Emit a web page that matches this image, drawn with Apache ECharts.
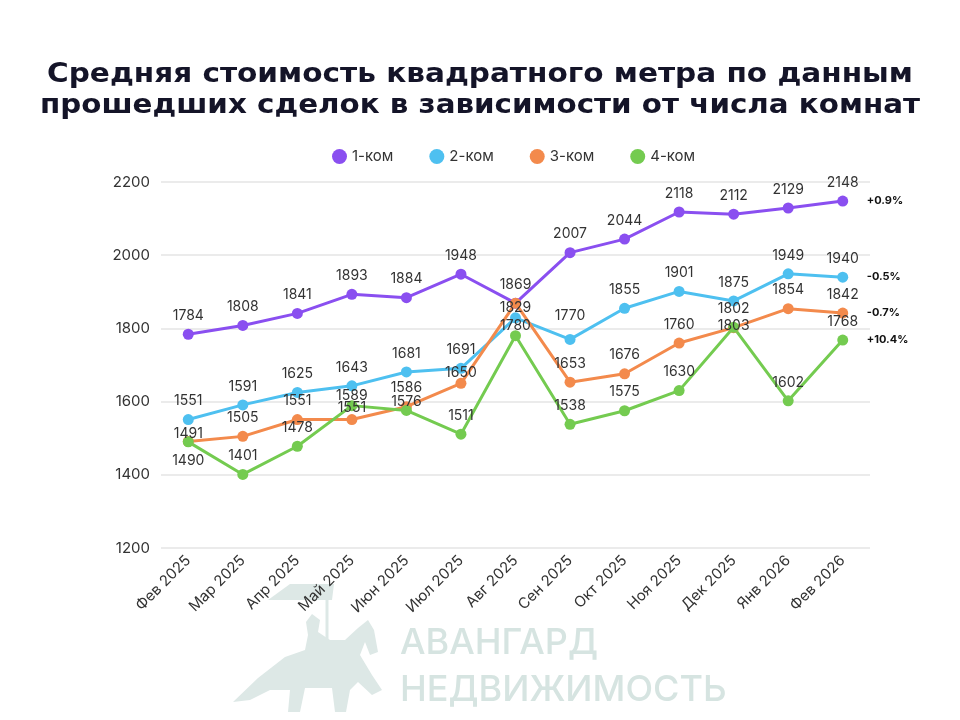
<!DOCTYPE html>
<html><head><meta charset="utf-8">
<script src="https://cdn.jsdelivr.net/npm/echarts@6/dist/echarts.min.js"></script>
<style>html,body{margin:0;padding:0;background:#fff}#c{width:960px;height:720px}</style>
</head><body><div id="c"></div>
<script>
const categories = ['Фев 2025','Мар 2025','Апр 2025','Май 2025','Июн 2025','Июл 2025','Авг 2025','Сен 2025','Окт 2025','Ноя 2025','Дек 2025','Янв 2026','Фев 2026'];
const room1 = [1784,1808,1841,1893,1884,1948,1869,2007,2044,2118,2112,2129,2148];
const room2 = [1551,1591,1625,1643,1681,1691,1829,1770,1855,1901,1875,1949,1940];
const room3 = [1491,1505,1551,1551,1586,1650,1869,1653,1676,1760,1802,1854,1842];
const room4 = [1490,1401,1478,1589,1576,1511,1780,1538,1575,1630,1803,1602,1768];
const seriesNames = ['1-ком','2-ком','3-ком','4-ком'];
const changeLabels = ['+0.9%','-0.5%','-0.7%','+10.4%'];
const yTicks = [1200,1400,1600,1800,2000,2200];
const titleLines = ['Средняя стоимость квадратного метра по данным','прошедших сделок в зависимости от числа комнат'];

const colors = ['#8a4ff0','#4ec0f0','#f38a4c','#74cb50'];
const FONT = 'Inter, "Noto Sans", sans-serif';
const TITLE_FONT = '"DejaVu Sans", sans-serif';

// label placement adjustments (style only), key = seriesIndex-pointIndex
const labelTweaks = {
  '1-6': {offset:[0,9]},
  '1-7': {offset:[0,-5]},
  '2-0': {offset:[0,11]},
  '2-3': {offset:[0,7]},
  '2-5': {offset:[0,8]},
  '2-6': {show:false},
  '3-0': {position:'bottom', distance:6},
  '3-3': {offset:[0,9]},
  '3-4': {offset:[0,10]},
  '3-6': {offset:[0,9]},
  '3-10': {offset:[0,17]}
};

function buildData(vals, si){
  return vals.map((v,i)=>{
    const t = labelTweaks[si+'-'+i];
    if(!t) return v;
    return {value:v, label:Object.assign({}, t)};
  });
}

const allVals = [room1,room2,room3,room4];
const series = allVals.map((vals,si)=>({
  name: seriesNames[si],
  type:'line',
  data: buildData(vals, si),
  symbol:'circle',
  symbolSize:11,
  lineStyle:{width:3, color:colors[si]},
  itemStyle:{color:colors[si]},
  label:{show:true, position:'top', distance:6, color:'#333', fontSize:14, fontFamily:FONT},
  endLabel:{show:true, formatter:changeLabels[si], distance:24, color:'#111', fontSize:11, fontWeight:'bold', fontFamily:FONT},
  emphasis:{disabled:true}
}));

// fit title lines to the reference widths
const ctx = document.createElement('canvas').getContext('2d');
const TSIZE = 27;
ctx.font = 'bold ' + TSIZE + 'px ' + TITLE_FONT;
const titleWidths = [866, 880];
const titleGraphics = titleLines.map((t,i)=>{
  const w = ctx.measureText(t).width || 1;
  return {type:'text', x:480, y: i===0 ? 75 : 106, scaleX: titleWidths[i]/w, scaleY:1,
    style:{text:t, fontFamily:TITLE_FONT, fontSize:TSIZE, fontWeight:'bold', fill:'#141428', textAlign:'center', textVerticalAlign:'middle'}};
});

const WM = '#dde8e6';
const chart = echarts.init(document.getElementById('c'), null, {renderer:'canvas'});
chart.setOption({
  backgroundColor:'#fff',
  animation:false,
  color: colors,
  legend:{
    data: seriesNames, left:327, top:144, icon:'circle', itemWidth:15, itemHeight:15, itemGap:36,
    textStyle:{fontFamily:FONT, fontSize:15, color:'#333'}
  },
  grid:{left:161, right:90, top:182, bottom:172},
  xAxis:{
    type:'category', data:categories, boundaryGap:true,
    axisLine:{show:false}, axisTick:{show:false},
    axisLabel:{rotate:45, fontFamily:FONT, fontSize:15, color:'#333', margin:10, interval:0}
  },
  yAxis:{
    type:'value', min:yTicks[0], max:yTicks[yTicks.length-1], interval:200,
    axisLine:{show:false}, axisTick:{show:false},
    axisLabel:{fontFamily:FONT, fontSize:15, color:'#333', margin:11, formatter:v=>String(v)},
    splitLine:{lineStyle:{color:'#e4e4e4', width:1.5}}
  },
  graphic: titleGraphics.concat([
    {type:'polygon', z:-1, shape:{points:[[233,702],[258,678],[285,657],[305,650],[308,635],[306,622],[312,614],[320,620],[318,632],[330,640],[345,640],[358,628],[368,620],[374,630],[378,652],[370,655],[365,642],[360,655],[372,675],[382,690],[372,695],[358,682],[350,690],[346,712],[335,712],[332,688],[305,688],[300,712],[288,712],[290,690],[270,690],[250,700]]}, style:{fill:WM}},
    {type:'polygon', z:-1, shape:{points:[[268,600],[290,584],[334,584],[332,600]]}, style:{fill:WM}},
    {type:'line', z:-1, shape:{x1:327, y1:584, x2:327, y2:645}, style:{stroke:WM, lineWidth:3}},
    {type:'text', z:-1, x:400, y:643, style:{text:'АВАНГАРД', fontFamily:FONT, fontSize:36, fontWeight:500, fill:'#d6e4e1', textVerticalAlign:'middle'}},
    {type:'text', z:-1, x:400, y:690, style:{text:'НЕДВИЖИМОСТЬ', fontFamily:FONT, fontSize:36, fontWeight:500, fill:'#d6e4e1', textVerticalAlign:'middle'}}
  ]),
  series: series
});
</script></body></html>
